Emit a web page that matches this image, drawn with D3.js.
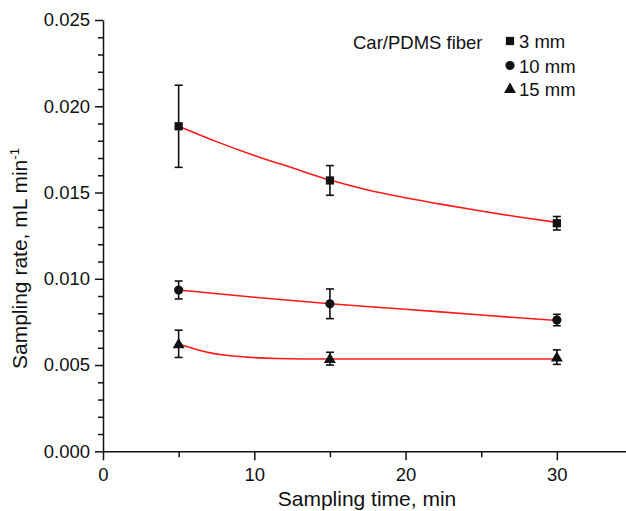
<!DOCTYPE html>
<html>
<head>
<meta charset="utf-8">
<script src="https://cdn.jsdelivr.net/npm/d3@7"></script>
<style>
  html, body { margin: 0; padding: 0; background: #fff; }
  svg { display: block; }
  text { font-family: "Liberation Sans", Arial, sans-serif; fill: #111; }
</style>
</head>
<body>
<svg id="chart" width="626" height="511"></svg>
<script>
// ---- data ----
const times = [5, 15, 30];
const rate3 = [0.01884, 0.01570, 0.01322];
const err3 = [0.00238, 0.00086, 0.00039];
const rate10 = [0.00935, 0.00855, 0.00761];
const err10 = [0.00052, 0.00086, 0.00033];
const rate15 = [0.00623, 0.00537, 0.00546];
const err15 = [0.00079, 0.00037, 0.00042];

const fitX3 = [5, 7.5, 10, 12.5, 15, 17.5, 20, 22.5, 25, 27.5, 30];
const fitY3 = [0.01884, 0.01795, 0.01715, 0.01643, 0.01572, 0.01515, 0.01470, 0.01430, 0.01393, 0.01358, 0.01327];
const fitX10 = [5, 10, 15, 20, 25, 30];
const fitY10 = [0.00935, 0.00893, 0.00855, 0.00823, 0.00790, 0.00758];
const fitX15 = [5, 6, 7, 8, 9.5, 11.5, 15, 20, 25, 30];
const fitY15 = [0.00622, 0.00595, 0.00572, 0.00558, 0.00546, 0.00538, 0.00535, 0.00535, 0.00535, 0.00535];

const xTicks = [0, 10, 20, 30];
const xMinorTicks = [5, 15, 25];
const yTicks = [0, 0.005, 0.010, 0.015, 0.020, 0.025];
const yMinorTicks = d3.range(0, 26).map(i => i / 1000).filter(v => Math.round(v * 1000) % 5 !== 0);

const seriesNames = ["3 mm", "10 mm", "15 mm"];
const legendTitle = "Car/PDMS fiber";
const xTitle = "Sampling time, min";
const yTitle = "Sampling rate, mL min";
const yTitleSup = "-1";

// ---- drawing ----
const svg = d3.select("#chart");
const x = d3.scaleLinear().domain([0, 35]).range([103, 632.5]);
const y = d3.scaleLinear().domain([0, 0.025]).range([451.3, 20]);

const tickFont = "18.5px";

// Y axis
const gy = svg.append("g").attr("transform", "translate(103,0)");
gy.append("g").call(d3.axisLeft(y).tickValues(yMinorTicks).tickSize(5).tickSizeOuter(0).tickFormat(""))
  .call(g => g.select(".domain").remove());
gy.append("g").call(d3.axisLeft(y).tickValues(yTicks).tickSize(8).tickSizeOuter(0).tickPadding(5).tickFormat(d3.format(".3f")));
gy.selectAll("line, path").attr("stroke", "#111").attr("stroke-width", 1.5);
gy.selectAll("text").style("font-size", tickFont).attr("fill", "#111");

// X axis
const gx = svg.append("g").attr("transform", "translate(0,451.3)");
gx.append("g").call(d3.axisBottom(x).tickValues(xMinorTicks).tickSize(6).tickSizeOuter(0).tickFormat(""))
  .call(g => g.select(".domain").remove());
gx.append("g").call(d3.axisBottom(x).tickValues(xTicks).tickSize(9).tickSizeOuter(0).tickPadding(8).tickFormat(d3.format("d")));
gx.selectAll("line, path").attr("stroke", "#111").attr("stroke-width", 1.5);
gx.selectAll("text").style("font-size", tickFont).attr("fill", "#111");

// Titles
svg.append("text").attr("x", 367).attr("y", 506).attr("text-anchor", "middle")
  .style("font-size", "21px").text(xTitle);
const yt = svg.append("text").attr("transform", "translate(27,369) rotate(-90)")
  .attr("text-anchor", "start").style("font-size", "21px");
yt.append("tspan").text(yTitle);
yt.append("tspan").attr("dy", "-8").style("font-size", "13px").text(yTitleSup);

// Fit curves
const line = d3.line().x(d => x(d[0])).y(d => y(d[1])).curve(d3.curveMonotoneX);
[[fitX3, fitY3], [fitX10, fitY10], [fitX15, fitY15]].forEach(([xs, ys]) => {
  svg.append("path").datum(xs.map((v, i) => [v, ys[i]]))
    .attr("d", line).attr("fill", "none").attr("stroke", "#ff1a1a").attr("stroke-width", 1.6);
});

// Error bars + markers
const symbols = [d3.symbolSquare, d3.symbolCircle, d3.symbolTriangle];
const symSizes = [68, 66, 62];
const series = [[rate3, err3], [rate10, err10], [rate15, err15]];
series.forEach(([vals, errs], si) => {
  const g = svg.append("g");
  times.forEach((t, i) => {
    const cx = x(t);
    const top = y(vals[i] + errs[i]), bot = y(vals[i] - errs[i]);
    g.append("line").attr("x1", cx).attr("x2", cx).attr("y1", top).attr("y2", bot)
      .attr("stroke", "#111").attr("stroke-width", 1.6);
    [top, bot].forEach(yy => g.append("line").attr("x1", cx - 4).attr("x2", cx + 4)
      .attr("y1", yy).attr("y2", yy).attr("stroke", "#111").attr("stroke-width", 1.6));
    g.append("path").attr("d", d3.symbol().type(symbols[si]).size(symSizes[si])())
      .attr("transform", `translate(${cx},${y(vals[i]) + (si === 2 ? 1 : 0)})`).attr("fill", "#111");
  });
});

// Legend
svg.append("text").attr("x", 353).attr("y", 49).style("font-size", "18.5px").text(legendTitle);
const legY = [41, 65.5, 89.5];
const legBase = [47.5, 72.5, 96];
seriesNames.forEach((name, i) => {
  svg.append("path").attr("d", d3.symbol().type(symbols[i]).size(symSizes[i])())
    .attr("transform", `translate(510,${legY[i]})`).attr("fill", "#111");
  svg.append("text").attr("x", 519).attr("y", legBase[i]).style("font-size", "18.5px").text(name);
});
</script>
</body>
</html>
